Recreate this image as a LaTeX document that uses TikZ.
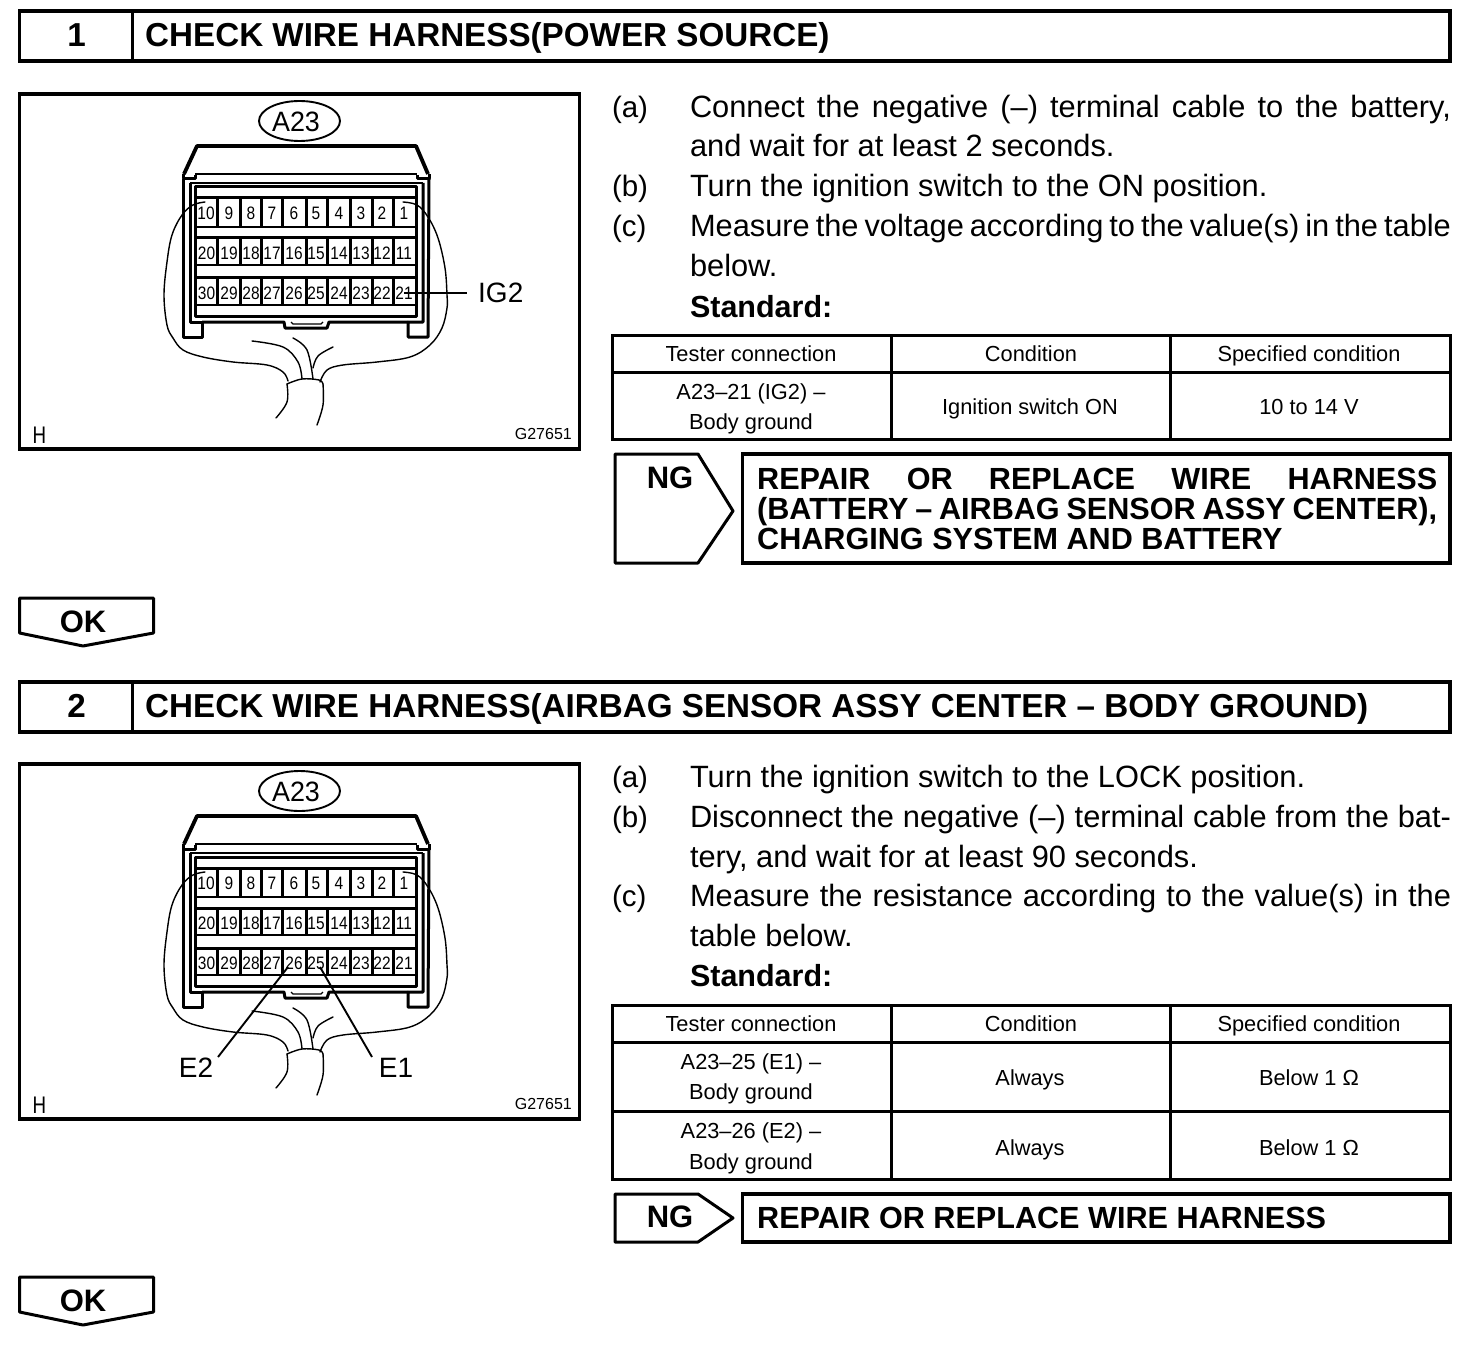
\documentclass[tikz,border=0pt]{standalone}
\usepackage{fontspec}
\usetikzlibrary{shapes.geometric}
\setmainfont{Liberation Sans}
\newcommand{\fz}[1]{\fontsize{#1}{#1}\selectfont}
\tikzset{
  x=1pt,y=-1pt,
  boxline/.style={draw=black,line width=3.4pt,line join=miter},
  ruleline/.style={draw=black,line width=3pt},
  wireline/.style={draw=black,line width=1.4pt,line cap=round},
  hairline/.style={draw=black,line width=1.3pt},
  leaderline/.style={draw=black,line width=1.9pt},
  shellline/.style={draw=black,line width=3pt,line join=round},
  topline/.style={draw=black,line width=3.8pt,line join=round},
  txt/.style={inner sep=0pt,outer sep=0pt,anchor=base west,font=\fz{30.8}},
  stept/.style={inner sep=0pt,outer sep=0pt,anchor=base west,font=\fz{29.5}},
  boldt/.style={inner sep=0pt,outer sep=0pt,anchor=base west,font=\bfseries\fz{30.5}},
  headt/.style={inner sep=0pt,anchor=base west,font=\bfseries\fz{33.2}},
  headnum/.style={inner sep=0pt,anchor=base,font=\bfseries\fz{33.2}},
  cellt/.style={inner sep=0pt,anchor=base,font=\fz{21.8}},
  repair/.style={inner sep=0pt,anchor=base west,font=\bfseries\fz{30.6}},
  ngt/.style={inner sep=0pt,anchor=base,font=\bfseries\fz{31}},
  pinno/.style={inner sep=0pt,anchor=center,font=\fz{18}},
  smallt/.style={inner sep=0pt,anchor=base east,font=\fz{16}},
  lbl/.style={inner sep=0pt,anchor=center,font=\fz{28}},
}
\newcommand{\pn}[1]{\scalebox{.86}[1]{#1}}
\newcommand{\connector}[1]{%
  \draw[boxline] (19.5,94) rectangle (579.5,449);
  \node[lbl] (#1tag) at (296,121.5) {\scalebox{.96}[1]{A23}};
  \node[draw=black,line width=1.9pt,ellipse,minimum width=81pt,minimum height=40pt,inner sep=0pt] (#1oval) at (299.5,121) {};
  \node[inner sep=0pt,anchor=base,font=\fz{24}] (#1h) at (39.5,443) {\scalebox{.78}[1]{H}};
  \node[smallt] (#1g) at (572,439) {G27651};
  \draw[topline] (184,174) -- (197,146) -- (416,146) -- (428,174);
  \draw[hairline] (195,174) -- (417,174);
  \draw[shellline] (183,174) -- (183,179) -- (195,179) -- (195,175);
  \draw[shellline] (417,175) -- (417,179) -- (429,179) -- (429,174);
  \draw[shellline] (183,179) -- (183,337) -- (202,337) -- (202,322) -- (190,322) -- (190,183);
  \draw[shellline] (429,179) -- (428,337) -- (408,337) -- (408,322) -- (423,322) -- (423,183);
  \draw[hairline] (190,183) -- (423,183);
  \draw[shellline] (202,322) -- (284,322) -- (285,328) -- (327,328) -- (329,322) -- (408,322);
  \draw[hairline] (291,322) -- (293,324) -- (321,324) -- (323,322);
  \draw[shellline] (195,187) rectangle (416,316);
  \foreach \ya/\yb in {198/227,238/265,278/305}{
    \draw[shellline] (195,\ya) -- (416,\ya);
    \draw[hairline] (195,\yb) -- (416,\yb);
    \foreach \xc in {217.7,240,261.7,282.7,306,327.7,350,372.3,393.3}
      \draw[shellline] (\xc,\ya) -- (\xc,\yb);
  }
  \foreach \n/\xc in {10/206,9/229,8/251,7/272,6/294,5/316,4/339,3/361,2/382,1/404}
    \node[pinno] (#1p\n) at (\xc,213) {\pn{\n}};
  \foreach \n/\xc in {20/206.5,19/229,18/251,17/272,16/294,15/316,14/339,13/361,12/382,11/404}
    \node[pinno] (#1p\n) at (\xc,253) {\pn{\n}};
  \foreach \n/\xc in {30/206.5,29/229,28/251,27/272,26/294,25/316,24/339,23/361,22/382,21/404}
    \node[pinno] (#1p\n) at (\xc,293) {\pn{\n}};
  \draw[wireline] plot[smooth,tension=.6] coordinates {(205,202) (193,205) (182,215) (172,235) (167,262) (164,295) (167,325) (173,338) (183,350) (203,357) (233,362) (267,365) (283,372) (288,381)};
  \draw[wireline] plot[smooth,tension=.6] coordinates {(403,202) (417,205) (428,217) (438,238) (445,268) (447,295) (447,308) (442,328) (430,345) (410,357) (377,362) (343,365) (327,370) (320,382)};
  \draw[wireline] plot[smooth,tension=.6] coordinates {(287,384) (302,379) (319,380) (323,384)};
  \draw[wireline] plot[smooth,tension=.6] coordinates {(287,384) (287,402) (276,418)};
  \draw[wireline] plot[smooth,tension=.6] coordinates {(323,384) (323,405) (317,425)};
  \draw[wireline] plot[smooth,tension=.6] coordinates {(252,341) (283,347) (298,362) (302,379)};
  \draw[wireline] plot[smooth,tension=.6] coordinates {(293,338) (307,350) (313,379)};
  \draw[wireline] plot[smooth,tension=.6] coordinates {(333,347) (318,356) (313,368)};
}
\newcommand{\okarrow}[2]{%
  \draw[ruleline,line join=round] (19.5,#2) -- (153.5,#2) -- (153.5,#2+35) -- (83,#2+48) -- (19.5,#2+35) -- cycle;
  \node[ngt] (#1) at (83,#2+34) {OK};
}
\newcommand{\sechead}[5]{%
  \draw[boxline] (19.5,#3) rectangle (1450,#3+50);
  \draw[ruleline] (132,#3) -- (132,#3+50);
  \node[headnum] (#1n) at (76.5,#5) {#2};
  \node[headt] (#1t) at (145,#5) {#4};
}
\newcommand{\jline}[3]{\node[txt] (#1) at (690,#2) {\makebox[761pt][s]{#3}};}
\newcommand{\pline}[3]{\node[txt] (#1) at (690,#2) {#3};}
\newcommand{\stepmark}[3]{\node[stept] (#1) at (612,#2) {#3};}
\begin{document}
\begin{tikzpicture}
\useasboundingbox (0,0) rectangle (1472,1348);
\fill[white] (0,0) rectangle (1472,1348);

\sechead{ha}{1}{11}{CHECK WIRE HARNESS(POWER SOURCE)}{47}
\connector{ca}
\coordinate (igend) at (467,293);
\draw[leaderline] (cap21.center) -- (igend);
\node[lbl,anchor=west] (ig2) at (478,293) {IG2};

\stepmark{ma}{118}{(a)}
\jline{l1}{118}{Connect the negative (–) terminal cable to the battery,}
\pline{l2}{157}{and wait for at least 2 seconds.}
\stepmark{mb}{197}{(b)}
\pline{l3}{197}{Turn the ignition switch to the ON position.}
\stepmark{mc}{237}{(c)}
\jline{l4}{237}{Measure the voltage according to the value(s) in the table}
\pline{l5}{277}{below.}
\node[boldt] (l6) at (690,317) {Standard:};

\draw[ruleline] (612,335) rectangle (1450,439);
\draw[ruleline] (612,372) -- (1450,372);
\draw[ruleline] (891,335) -- (891,439);
\draw[ruleline] (1170,335) -- (1170,439);
\node[cellt] (t11) at (751,361) {Tester connection};
\node[cellt] (t12) at (1031,361) {Condition};
\node[cellt] (t13) at (1309,361) {Specified condition};
\node[cellt] (t21) at (751,399) {A23–21 (IG2) –};
\node[cellt] (t21b) at (751,429) {Body ground};
\node[cellt] (t22) at (1030,414) {Ignition switch ON};
\node[cellt] (t23) at (1309,414) {10 to 14 V};

\draw[ruleline,line join=round] (615,454) -- (698,454) -- (733,511) -- (698,563) -- (615,563) -- cycle;
\node[ngt] (ng1) at (670,488) {NG};
\draw[boxline] (742.5,454) rectangle (1450,563);
\node[repair] (r1) at (757,489) {\makebox[680pt][s]{REPAIR OR REPLACE WIRE HARNESS}};
\node[repair] (r2) at (757,519) {\makebox[680pt][s]{(BATTERY – AIRBAG SENSOR ASSY CENTER),}};
\node[repair] (r3) at (757,549) {CHARGING SYSTEM AND BATTERY};

\okarrow{ok1}{598}

\sechead{hb}{2}{682}{CHECK WIRE HARNESS(AIRBAG SENSOR ASSY CENTER – BODY GROUND)}{717}
\begin{scope}[shift={(0,670)}]
\connector{cb}
\coordinate (e2end) at (218,387);
\coordinate (e1end) at (372,387);
\coordinate (e2start) at (288,297);
\coordinate (e1start) at (320,297);
\draw[leaderline] (e2start) -- (e2end);
\draw[leaderline] (e1start) -- (e1end);
\node[lbl] (e2) at (196,398) {E2};
\node[lbl] (e1) at (396,398) {E1};
\end{scope}

\stepmark{na}{787}{(a)}
\pline{n1}{787}{Turn the ignition switch to the LOCK position.}
\stepmark{nb}{827}{(b)}
\jline{n2}{827}{Disconnect the negative (–) terminal cable from the bat-}
\pline{n3}{867}{tery, and wait for at least 90 seconds.}
\stepmark{nc}{906}{(c)}
\jline{n4}{906}{Measure the resistance according to the value(s) in the}
\pline{n5}{946}{table below.}
\node[boldt] (n6) at (690,986) {Standard:};

\draw[ruleline] (612,1005) rectangle (1450,1179);
\draw[ruleline] (612,1042) -- (1450,1042);
\draw[ruleline] (612,1111) -- (1450,1111);
\draw[ruleline] (891,1005) -- (891,1179);
\draw[ruleline] (1170,1005) -- (1170,1179);
\node[cellt] (u11) at (751,1031) {Tester connection};
\node[cellt] (u12) at (1031,1031) {Condition};
\node[cellt] (u13) at (1309,1031) {Specified condition};
\node[cellt] (u21) at (751,1069) {A23–25 (E1) –};
\node[cellt] (u21b) at (751,1099) {Body ground};
\node[cellt] (u22) at (1030,1085) {Always};
\node[cellt] (u23) at (1309,1085) {Below 1 Ω};
\node[cellt] (u31) at (751,1138) {A23–26 (E2) –};
\node[cellt] (u31b) at (751,1169) {Body ground};
\node[cellt] (u32) at (1030,1155) {Always};
\node[cellt] (u33) at (1309,1155) {Below 1 Ω};

\draw[ruleline,line join=round] (615,1194) -- (698,1194) -- (733,1218) -- (698,1242) -- (615,1242) -- cycle;
\node[ngt] (ng2) at (670,1227) {NG};
\draw[boxline] (742.5,1194) rectangle (1450,1242);
\node[repair] (r4) at (757,1228) {REPAIR OR REPLACE WIRE HARNESS};

\okarrow{ok2}{1277}
\end{tikzpicture}
\end{document}
